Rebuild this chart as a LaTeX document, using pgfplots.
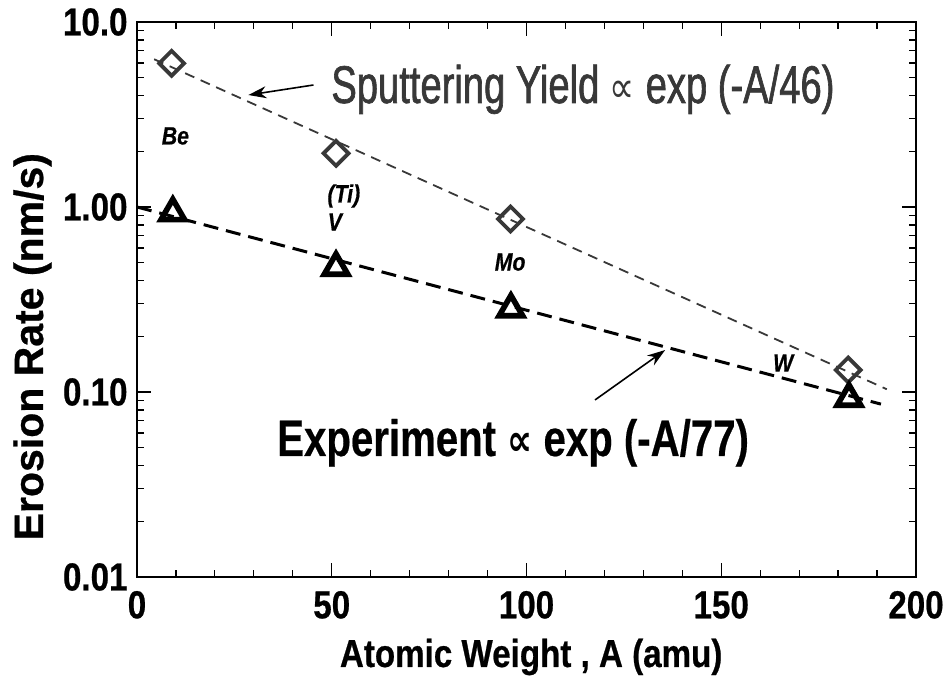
\documentclass[border=0pt]{standalone}
\usepackage{fontspec}
\setmainfont{Liberation Sans}[FakeStretch=0.85]
\newfontfamily\tickfont{Liberation Sans}[FakeStretch=0.85, FakeBold=0.6]
\newfontfamily\widefont{Liberation Sans}[FakeStretch=1.0, FakeBold=0.6]
\newfontfamily\sputfont{Liberation Sans}[FakeStretch=0.72, FakeBold=1.2]
\newfontfamily\expfont{Liberation Sans}[FakeStretch=0.785, FakeBold=0.4]
\newfontfamily\symfont{DejaVu Sans}[FakeStretch=0.8]
\usepackage{pgfplots}
\pgfplotsset{compat=1.18}
\usetikzlibrary{arrows.meta}
\definecolor{sput}{gray}{0.22}
\begin{document}
\begin{tikzpicture}
\begin{axis}[
  name=ax,
  scale only axis,
  width=389.5pt, height=277.5pt,
  xmin=0, xmax=200,
  ymode=log, ymin=0.01, ymax=10,
  xtick={0,50,100,150,200},
  xticklabels={0,50,100,150,200},
  minor x tick num=4,
  ytick={0.01,0.1,1,10},
  yticklabels={0.01,0.10,1.00,10.0},
  tick align=inside,
  major tick length=7pt,
  minor tick length=3.5pt,
  axis line style={line width=1pt},
  every tick/.style={black, line width=0.6pt},
  ticklabel style={font=\tickfont\fontsize{19.5}{22}\selectfont\bfseries},
  xticklabel style={yshift=-3.5pt},
  yticklabel style={xshift=-1.2pt},
  clip=false,
]
\addplot[sput, line width=0.9pt, dash pattern=on 5pt off 3.5pt] coordinates {(4.4,6.29) (192.5,0.1035)};
\addplot[black, line width=1.5pt, dash pattern=on 7.5pt off 4pt] coordinates {(0,1.0) (191,0.086)};
\addplot[only marks, mark=square, mark size=4.4pt, mark options={rotate=45, draw=sput, fill=white, line width=1.9pt}] coordinates {(8.9,5.98) (51.1,1.95) (95.9,0.861) (182.6,0.1315)};
\addplot[only marks, mark=triangle, mark size=6.8pt, mark options={draw=black, fill=white, line width=2.8pt, line join=miter}] coordinates {(9.2,0.93) (51.1,0.471) (96.0,0.281) (182.8,0.0923)};

\node[font=\tickfont\fontsize{12.5}{14}\selectfont\bfseries\itshape] at (axis cs:9.86,2.42) {Be};
\node[font=\tickfont\fontsize{12.5}{14}\selectfont\bfseries\itshape] at (axis cs:53.1,1.147) {(Ti)};
\node[font=\tickfont\fontsize{12.5}{14}\selectfont\bfseries\itshape] at (axis cs:50.8,0.830) {V};
\node[font=\tickfont\fontsize{12.5}{14}\selectfont\bfseries\itshape] at (axis cs:95.8,0.504) {Mo};
\node[font=\tickfont\fontsize{12.5}{14}\selectfont\bfseries\itshape] at (axis cs:165.9,0.1435) {W};

\node[anchor=base west, inner sep=0pt, text=sput, font=\sputfont\fontsize{26.5}{30}\selectfont] at (axis cs:49.8,3.65) {Sputtering Yield {\symfont\fontsize{22}{26}\selectfont ∝} exp (-A/46)};
\node[anchor=base west, inner sep=0pt, font=\expfont\fontsize{25.6}{30}\selectfont\bfseries] at (axis cs:35.9,0.0451) {Experiment {\symfont\fontsize{22}{26}\selectfont ∝} exp (-A/77)};

\draw[black, line width=0.8pt, -{Stealth[length=9pt,width=6pt]}] (axis cs:45.3,4.565) -- (axis cs:28.6,4.03);
\draw[black, line width=0.8pt, -{Stealth[length=9pt,width=6pt]}] (axis cs:117.6,0.0906) -- (axis cs:135.6,0.1686);

\node[rotate=90, anchor=base, inner sep=0pt, font=\widefont\fontsize{20.5}{22}\selectfont\bfseries] at ([xshift=-47pt]rel axis cs:0,0.415) {Erosion Rate (nm/s)};
\node[anchor=base, inner sep=0pt, font=\tickfont\fontsize{19.5}{22}\selectfont\bfseries] at ([yshift=-45pt]rel axis cs:0.506,0) {Atomic Weight , A (amu)};
\end{axis}
\pgfresetboundingbox
\path[use as bounding box] ([xshift=-68.5pt,yshift=-50.5pt]ax.south west) rectangle ([xshift=14pt,yshift=11pt]ax.north east);
\end{tikzpicture}
\end{document}
